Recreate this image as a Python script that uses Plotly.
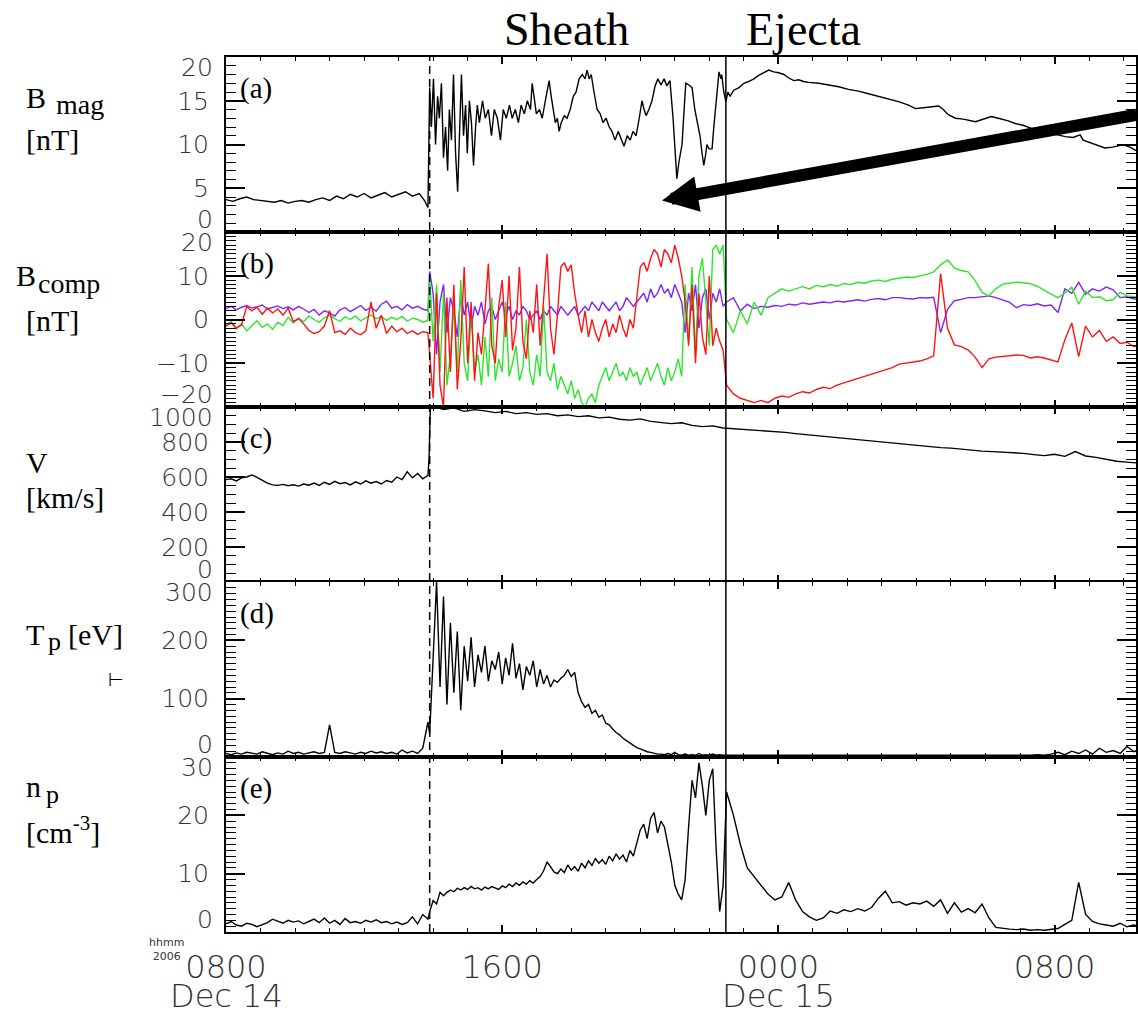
import numpy as np
import pandas as pd
import plotly.graph_objects as go

# ---------------- time base ----------------
T0 = pd.Timestamp("2006-12-14 08:00")   # hours below are counted from here
X_END_H = 26.36                          # right edge of the time axis (h)
SHOCK_H = 5.90                           # dashed line (shock)
EJECTA_H = 14.48                         # solid line (ejecta start)
ARROW_TIP = (12.63, 3.6)                 # (h, nT) arrow tip in panel (a)
SHEATH_LABEL_H = 9.86
EJECTA_LABEL_H = 16.73


def to_time(hours):
    return T0 + pd.to_timedelta(np.asarray(hours, dtype=float), unit="h")


def tstr(h):
    return (T0 + pd.Timedelta(hours=h)).strftime("%Y-%m-%d %H:%M:%S")


def sample_times(start, step, n):
    return [round(start + step * i, 4) for i in range(n)]


# ---------------- (a) |B| ----------------
bmag_t = [
    0.0, 0.2, 0.4, 0.6, 0.8, 1.0, 1.2, 1.4, 1.6, 1.8,
    2.0, 2.2, 2.4, 2.6, 2.8, 3.0, 3.2, 3.4, 3.6, 3.8,
    4.0, 4.2, 4.4, 4.6, 4.8, 5.0, 5.2, 5.4, 5.6, 5.75, 5.85,
    5.90, 5.95, 6.01, 6.07, 6.13, 6.18, 6.24, 6.30, 6.36, 6.42,
    6.47, 6.53, 6.59, 6.65, 6.71, 6.76, 6.82, 6.88, 6.94, 6.99,
    7.05, 7.11, 7.17, 7.23, 7.28, 7.34, 7.43, 7.51, 7.60, 7.69,
    7.77, 7.86, 7.95, 8.03, 8.12, 8.21, 8.29, 8.38, 8.47, 8.55,
    8.64, 8.73, 8.82, 8.87, 8.93, 8.99, 9.08, 9.16, 9.25, 9.31,
    9.36, 9.42, 9.48, 9.54, 9.60, 9.65, 9.71, 9.80, 9.88, 9.97,
    10.06, 10.14, 10.23, 10.32, 10.40, 10.46, 10.52, 10.58, 10.66, 10.75,
    10.84, 10.92, 11.01, 11.10, 11.18, 11.27, 11.36, 11.45, 11.53, 11.62,
    11.71, 11.79, 11.88, 11.97, 12.05, 12.11, 12.17, 12.25, 12.34, 12.43,
    12.51, 12.60, 12.69, 12.77, 12.86, 12.95, 13.01, 13.06, 13.12, 13.21,
    13.27, 13.32, 13.41, 13.50, 13.58, 13.67, 13.73, 13.79, 13.84, 13.90,
    13.93, 13.99, 14.08, 14.13, 14.19, 14.25, 14.28, 14.34, 14.36, 14.42,
    14.48,
    14.54, 14.60, 14.71, 14.86, 15.00, 15.14, 15.29, 15.43, 15.58, 15.72,
    15.87, 16.01, 16.16, 16.30, 16.45, 16.59, 16.73, 16.88, 17.17, 17.46,
    17.75, 18.03, 18.32, 18.61, 18.90, 19.19, 19.48, 19.77, 19.97, 20.20,
    20.49, 20.64, 20.78, 20.92, 21.13, 21.36, 21.71, 21.94, 22.17, 22.37,
    22.66, 22.86, 23.09, 23.29, 23.53, 23.82, 24.10, 24.31, 24.54, 24.74,
    24.83, 24.97, 25.17, 25.46, 25.69, 25.90, 26.04, 26.18, 26.36, 26.50,
]
bmag_v = [
    3.7, 3.5, 3.8, 4.0, 3.7, 3.6, 3.5, 3.4, 3.6, 3.3,
    3.5, 3.6, 3.4, 3.7, 3.9, 3.6, 4.1, 3.8, 4.3, 4.0,
    4.4, 3.9, 4.2, 4.5, 4.0, 4.3, 4.6, 4.1, 4.4, 3.6, 2.8,
    16.5, 12, 17.5, 10, 15.5, 13, 17, 8.5, 12, 7,
    14, 10.5, 18, 9, 4.6, 12, 18, 11, 14.5, 9,
    15, 12.5, 7.6, 12, 14.5, 12.5, 15, 13, 14, 11,
    14, 13, 10.5, 14, 13, 14.5, 13, 14, 12.5, 14.5,
    13.5, 15, 14, 17, 15, 13.5, 14, 13, 15, 16.5,
    17.3, 15.5, 14, 12.5, 13, 11.5, 12.5, 13.3, 13, 14,
    15.5, 16, 17.5, 18, 17.5, 18.5, 17.5, 18, 16, 14,
    13.5, 12.5, 13, 12, 11.5, 10.5, 11.5, 10.5, 9.8, 11,
    10.5, 11.5, 11, 13, 15, 14, 13.3, 14, 15, 16.7,
    17.5, 16.8, 17.5, 16.7, 17.3, 13, 9, 6.1, 8, 10,
    14, 17, 16.8, 16.5, 14, 12, 11, 9, 7.6, 9,
    10, 9.5, 9.5, 12, 15, 17, 18.3, 17.5, 18, 16,
    14.9,
    16, 15.5, 16.2, 16.5, 17, 17.2, 17.5, 17.9, 18.2, 18.5,
    18.3, 18.2, 18, 17.6, 17.3, 17.4, 17.2, 17.1, 17, 16.8,
    16.6, 16.3, 16.1, 15.8, 15.5, 15.2, 14.9, 14.5, 14.1, 14.2,
    14.3, 14.4, 14.0, 13.4, 13.0, 12.9, 12.6, 12.9, 13.2, 13.0,
    12.7, 12.4, 12.2, 11.9, 11.6, 11.3, 11.1, 10.9, 10.8, 11.1,
    10.5, 10.3, 10.0, 9.6, 9.7, 9.9, 9.9, 9.7, 9.3, 9.2,
]

# common sampling grid for (b), (d), (e)
pre_t = sample_times(0.0, 0.15, 40)
sheath_t = sample_times(5.9, 0.1, 86)
ejecta_t = sample_times(14.5, 0.2, 61)
grid_t = pre_t + sheath_t + ejecta_t

# ---------------- (b) B components ----------------
bred_pre = [-1.5, -0.8, -2.0, -1.2, 3.0, 2.0, 2.8, 1.2, 2.6, 1.5,
            2.4, 1.0, 2.6, -0.5, 0.2, -1.0, -2.5, -3.2, -2.8, -1.5,
            2.0, -3.0, -2.6, -3.4, -2.0, -3.0, -3.5, -2.6, 4.0, -2.0,
            1.0, -3.2, -1.5, -2.8, -2.0, -3.2, -2.6, -3.4, -2.8, -3.0]
bred_sheath = [-8, -18, 6, -15, -20, 5, -12, 8, -16, -5,
               12, -10, 4, -14, -3, -8, 2, 12.8, -6, -10,
               3, 9, -4, 10, -7, -2, 12, -5, -9, 2,
               -3, 8, -6, 4, 15, -2, -8, 1, 12, 13,
               11, 12.5, 6, 1, -3, 2, -4, 0, -3, -5,
               -2, 0, -4, -1, -3, 1, -2, -4, 0, -2,
               5, 12, 13, 11, 14, 16, 15, 12, 16, 15,
               13, 17, 14, 10, 4, -6, 8, -10, 6, -4,
               -8, 10, -6, -2, -5, -7]
bred_ejecta = [-15, -17, -18, -18.5, -19, -18.5, -19, -18, -17.5, -17.8,
               -17, -16.5, -16.8, -16, -15.5, -15.8, -15, -14.5, -14, -13.5,
               -13, -12.6, -12, -11.5, -11, -10.2, -10, -9.7, -9.5, -9,
               -8.3, 10.5, -2, -5.8, -6.2, -7, -8.6, -11, -9, -8.6,
               -8.5, -8.3, -8.1, -8.2, -8.8, -8.5, -8.8, -9.2, -9.7, -4.6,
               -0.8, -8.5, -1.5, -4, -2.5, -5, -4, -5.5, -5.2, -6.2,
               -6]

bgreen_pre = [-1.2, -0.5, -2.0, -1.0, -2.6, -1.5, -0.3, -1.8, -1.0, -2.2,
              -0.6, -1.4, 0.5, -0.8, 0.3, -0.5, 0.8, 0.0, -0.6, 0.4,
              1.0, 0.2, -0.4, 0.6, 0.0, 0.8, -0.3, 0.4, 1.0, 0.2,
              0.6, -0.2, 0.5, 0.0, 0.7, -0.4, 0.3, 0.0, -0.6, -0.2]
bgreen_sheath = [10, -5, 8, -12, 6, -15, -8, 3, -12, 9,
                 -10, -14, 2, -12, -8, -15, -4, -13, 5, -14,
                 -9, -12, 4, -13, -10, -6, -14, -11, 0, -12,
                 -15, -8, -13, 3, -12, -14, -10, -16, -13, -15,
                 -17, -14, -18, -16, -19, -20, -18, -17, -19, -15,
                 -13, -11, -14, -12, -10, -13, -12, -14, -11, -13,
                 -12, -15, -13, -11, -14, -12, -10, -13, -15, -11,
                 -14, -12, -9, -13, 8, -5, 12, -8, 10, 14,
                 4, -6, 16, 17, 15, 17]
bgreen_ejecta = [0, -3, 2, -1, 4, 1, 5, 6, 7, 6.5,
                 7, 7.5, 7, 7.8, 7.5, 8, 7.6, 8.2, 8, 8.5,
                 8.3, 8.8, 9, 8.7, 9.2, 9.5, 9.7, 9.6, 10, 10.3,
                 10.9, 12.5, 13.6, 11.8, 11.2, 10.9, 8.9, 6.2, 5.4, 7,
                 8.1, 8.3, 8.5, 8.4, 8.2, 7.6, 6.6, 5.8, 5, 6,
                 7.4, 3.5, 6.5, 5, 5.2, 4.3, 4.5, 6.2, 5.4, 5.2,
                 5]

bpurple_pre = [2.5, 3.0, 2.2, 2.8, 3.2, 2.6, 2.9, 3.3, 2.4, 2.8,
               3.1, 2.5, 2.9, 2.2, 3.0, 2.4, 1.6, 2.3, 1.0, 2.0,
               1.5, 0.8, 2.2, 2.7, 1.8, 2.5, 3.2, 2.1, 2.8, 1.9,
               3.5, 4.2, 2.6, 3.0, 2.2, 3.4, 2.6, 3.0, 2.4, 2.0]
bpurple_sheath = [11, 6, -8, 4, 8, -3, 5, 2, -4, 6,
                  1, 4, -2, 3, 1, 4, -1, 2, 3, 0,
                  2, 4, 1, 3, 0, 2, 1, 3, 2, 0,
                  1, 2, 0, 2, 1, 3, 2, 1, 3, 2,
                  1, 2, 3, 1, 2, 3, 2, 4, 3, 2,
                  4, 3, 2, 3, 4, 2, 3, 5, 4, 3,
                  4, 5, 6, 4, 7, 5, 6, 8, 6, 7,
                  5, 8, 6, 4, -3, 6, 2, 8, -2, 5,
                  7, 0, 6, 4, 7, 3]
bpurple_ejecta = [4, 5, 2, 3.5, 2.5, 3, 2.8, 3.2, 3, 3.5,
                  3.3, 3.8, 3.5, 3.7, 4, 3.8, 4.2, 4, 4.3, 4.5,
                  4.2, 4.6, 4.8, 4.5, 5, 5, 4.8, 4.7, 5, 4.9,
                  5.1, -3, 2.3, 4.3, 4.6, 5, 5, 5.2, 5.4, 5,
                  4.5, 3.9, 2.7, 3.4, 3.2, 3.6, 3.1, 3.3, 1.6, 7,
                  6, 8.5, 5.8, 7, 6.5, 7.4, 6.8, 5, 5.2, 4.7,
                  4.6]

# ---------------- (c) V ----------------
v_pre = [585, 590, 578, 595, 600, 612, 598, 580, 565, 555,
         552, 558, 550, 556, 548, 560, 553, 565, 552, 570,
         558, 575, 562, 568, 555, 572, 560, 578, 565, 574,
         560, 580, 570, 600, 585, 630, 595, 620, 590, 610]
v_jump_t = [5.88, 5.92]
v_jump = [700, 1000]
v_post_t = sample_times(6.0, 0.3, 69)
v_post = [1005, 985, 995, 975, 985, 978, 968, 975, 962, 968,
          958, 962, 950, 955, 945, 950, 938, 942, 930, 925,
          932, 918, 912, 905, 910, 895, 888, 892, 880, 876,
          872, 868, 865, 858, 855, 848, 842, 836, 832, 825,
          820, 812, 808, 800, 795, 790, 782, 778, 772, 768,
          765, 758, 752, 748, 745, 742, 738, 735, 728, 722,
          730, 718, 745, 720, 712, 700, 690, 685, 680]

# ---------------- (d) Tp ----------------
tp_pre = [6, 4, 7, 5, 8, 6, 5, 9, 6, 4,
          7, 5, 10, 6, 8, 5, 7, 9, 6, 8,
          55, 8, 6, 9, 7, 5, 8, 6, 10, 7,
          9, 6, 8, 5, 12, 7, 10, 6, 15, 60]
tp_sheath = [40, 180, 300, 120, 275, 90, 230, 110, 215, 80,
             190, 130, 205, 120, 175, 145, 190, 130, 165, 150,
             180, 125, 170, 140, 195, 135, 160, 115, 155, 140,
             165, 120, 150, 125, 140, 120, 132, 128, 135, 140,
             150, 138, 145, 110, 95, 85, 90, 75, 80, 68,
             72, 58, 55, 48, 42, 38, 32, 28, 24, 20,
             16, 14, 11, 9, 8, 6, 5, 5, 4, 6,
             4, 8, 4, 3, 5, 3, 4, 3, 6, 3,
             4, 3, 5, 3, 4, 3]
tp_ejecta = [3, 2, 3, 2, 3, 2, 2, 3, 2, 2,
             3, 2, 2, 2, 3, 2, 2, 2, 3, 2,
             2, 2, 2, 3, 2, 2, 2, 3, 2, 2,
             2, 3, 2, 2, 3, 2, 2, 3, 2, 2,
             3, 2, 3, 2, 3, 4, 3, 5, 8, 4,
             10, 6, 12, 5, 15, 8, 11, 6, 18, 9,
             14]

# ---------------- (e) np ----------------
np_pre = [1.4, 1.8, 1.2, 1.0, 1.5, 1.3, 0.9, 1.2, 1.6, 2.2,
          1.8, 1.5, 2.0, 1.7, 1.9, 1.4, 1.8, 2.2, 1.6, 2.4,
          1.5, 2.0, 1.3, 2.3, 1.6, 1.8, 1.5, 2.0, 1.7, 2.1,
          1.6, 1.8, 1.4, 1.7, 1.3, 1.6, 2.6, 1.4, 3.0, 2.2]
np_sheath = [3.5, 5.4, 4.8, 6.8, 6.2, 6.8, 7.2, 6.9, 7.5, 7.2,
             7.6, 7.3, 7.8, 7.4, 7.6, 7.2, 7.7, 7.4, 7.8, 7.5,
             7.3, 7.9, 7.6, 8.2, 7.8, 8.4, 8.0, 8.6, 8.2, 8.8,
             8.4, 9.0, 9.5, 10.5, 12.0, 11.2, 10.3, 10.0, 10.8, 10.2,
             11.5, 10.6, 11.2, 10.4, 11.8, 11.0, 12.2, 11.4, 12.6, 11.8,
             12.4, 11.6, 13.0, 12.2, 13.4, 12.5, 13.2, 12.0, 14.0, 13.0,
             15.5, 17.5, 18.5, 16.0, 19.5, 20.5, 17.0, 19.0, 18.0, 15.0,
             12.0, 8.0, 6.5, 5.5, 9.0, 18.0, 26.0, 23.0, 29.0, 25.0,
             20.0, 26.0, 28.0, 14.0, 3.5, 8.0]
np_ejecta = [24, 20, 15, 11, 9.5, 8, 6.5, 5.5, 6, 8.5,
             5.5, 3.5, 2.6, 2, 2.4, 3.6, 3.2, 3.8, 3.5, 4.0,
             3.6, 4.2, 5.8, 7.0, 5.0, 5.2, 4.6, 5.0, 4.8, 5.3,
             4.4, 5.5, 3.2, 5.0, 3.4, 4.0, 3.3, 4.8, 2.4, 0.8,
             0.6, 0.5, 0.4, 0.5, 0.3, 0.4, 0.3, 0.5, 0.6, 1.3,
             2.0, 8.5, 3.0, 1.8, 1.4, 1.2, 1.0, 1.5, 0.9, 1.2,
             1.0]

# axis tick labels
x_major_h = [0, 8, 16, 24]
x_major_text = ["0800", "1600", "0000", "0800"]
date_labels_h = [0, 16]
date_labels = ["Dec 14", "Dec 15"]

assert len(bmag_t) == len(bmag_v)
for seq in (bred_pre, bgreen_pre, bpurple_pre, v_pre, tp_pre, np_pre):
    assert len(seq) == 40
for seq in (bred_sheath, bgreen_sheath, bpurple_sheath, tp_sheath, np_sheath):
    assert len(seq) == 86
for seq in (bred_ejecta, bgreen_ejecta, bpurple_ejecta, tp_ejecta, np_ejecta):
    assert len(seq) == 61
assert len(v_post) == len(v_post_t)

# ---------------- figure ----------------
W, H = 1138, 1013
ML, MR, MT, MB = 226, 0, 57, 81
PW, PH = W - ML - MR, H - MT - MB

def px(x):
    return (x - ML) / PW

def py(y):
    return (H - MB - y) / PH

SANS = "DejaVu Sans"
SERIF = "Liberation Serif"
TICKC = "#333333"
TICKFONT_Y = dict(family=SANS, size=25, color=TICKC, weight=300)
TICKFONT_X = dict(family=SANS, size=32, color=TICKC, weight=300)

panels = [
    dict(lo=0, hi=20, mid=[5, 10, 15], mid_t=["5", "10", "15"], top="20", bot="0", minor=1, tag="(a)"),
    dict(lo=-20, hi=20, mid=[-10, 0, 10], mid_t=["\u221210", "0", "10"], top="20", bot="\u221220", minor=1, tag="(b)"),
    dict(lo=0, hi=1000, mid=[200, 400, 600, 800], mid_t=["200", "400", "600", "800"], top="1000", bot="0", minor=50, tag="(c)"),
    dict(lo=0, hi=300, mid=[100, 200], mid_t=["100", "200"], top="300", bot="0", minor=10, tag="(d)"),
    dict(lo=0, hi=30, mid=[10, 20], mid_t=["10", "20"], top="30", bot="0", minor=1, tag="(e)"),
]

fig = go.Figure()
LINE_W = 1.4

def add(k, t_hours, vals, color="black", width=LINE_W):
    xa = "x" if k == 0 else f"x{k+1}"
    ya = "y" if k == 0 else f"y{k+1}"
    fig.add_trace(go.Scatter(x=to_time(t_hours), y=vals, mode="lines",
                             line=dict(color=color, width=width),
                             xaxis=xa, yaxis=ya, hoverinfo="skip"))

add(0, bmag_t, bmag_v)
add(1, grid_t, bpurple_pre + bpurple_sheath + bpurple_ejecta, "#8022ff", 1.4)
add(1, grid_t, bgreen_pre + bgreen_sheath + bgreen_ejecta, "#2ee52e", 1.4)
add(1, grid_t, bred_pre + bred_sheath + bred_ejecta, "#ff1414", 1.4)
add(2, pre_t + v_jump_t + v_post_t, v_pre + v_jump + v_post)
add(3, grid_t, tp_pre + tp_sheath + tp_ejecta)
add(4, grid_t, np_pre + np_sheath + np_ejecta)

layout = dict(
    width=W, height=H, margin=dict(l=ML, r=MR, t=MT, b=MB, pad=0),
    paper_bgcolor="white", plot_bgcolor="white", showlegend=False,
)

x_range = [tstr(0), tstr(X_END_H)]
for k, p in enumerate(panels):
    sfx = "" if k == 0 else str(k + 1)
    d0 = 1 - 0.2 * (k + 1)
    layout["xaxis" + sfx] = dict(
        type="date", range=x_range, domain=[0, 1], anchor="y" + sfx,
        showline=True, linecolor="black", linewidth=2, mirror="ticks",
        ticks="inside", ticklen=7, tickwidth=1.5, tickcolor="black",
        tickmode="array", tickvals=[tstr(h) for h in x_major_h], ticktext=x_major_text,
        showticklabels=(k == 4), tickfont=TICKFONT_X,
        ticklabelstandoff=6,
        minor=dict(ticks="inside", ticklen=4, tickwidth=1.2, tickcolor="black",
                   tick0=tstr(0), dtick=3600000, showgrid=False),
        showgrid=False, zeroline=False, fixedrange=True,
    )
    layout["yaxis" + sfx] = dict(
        range=[p["lo"], p["hi"]], domain=[d0, d0 + 0.2], anchor="x" + sfx,
        showline=True, linecolor="black", linewidth=2, mirror="ticks",
        ticks="inside", ticklen=19, tickwidth=1.5, tickcolor="black",
        tickmode="array", tickvals=p["mid"], ticktext=p["mid_t"],
        tickfont=TICKFONT_Y, ticklabelstandoff=10,
        minor=dict(ticks="inside", ticklen=10, tickwidth=1.2, tickcolor="black",
                   tick0=0, dtick=p["minor"], showgrid=False),
        showgrid=False, zeroline=False, fixedrange=True,
    )

fig.update_layout(**layout)

ann = []
for k, p in enumerate(panels):
    yref = "y" if k == 0 else f"y{k+1}"
    ann.append(dict(text=p["top"], xref="paper", x=0, xanchor="right", xshift=-11,
                    yref=yref, y=p["hi"], yanchor="top", yshift=6, showarrow=False,
                    font=TICKFONT_Y))
    ann.append(dict(text=p["bot"], xref="paper", x=0, xanchor="right", xshift=-11,
                    yref=yref, y=p["lo"], yanchor="bottom", yshift=-4, showarrow=False,
                    font=TICKFONT_Y))
    ann.append(dict(text=p["tag"], xref="paper", x=0, xanchor="left", xshift=12,
                    yref=yref + " domain", y=1, yanchor="top", yshift=-13, showarrow=False,
                    font=dict(family=SERIF, size=29, color="black")))

# dates under the time tick labels
for h, lab_ in zip(date_labels_h, date_labels):
    ann.append(dict(text=lab_, xref="x5", x=tstr(h), xanchor="center",
                    yref="paper", y=py(996), yanchor="middle", showarrow=False,
                    font=TICKFONT_X))
ann.append(dict(text="hhmm<br>2006", xref="paper", x=px(166), xanchor="center",
                yref="paper", y=py(950), yanchor="middle", showarrow=False,
                font=dict(family=SANS, size=11, color=TICKC)))

# panel titles on the left
def lab(text, x, y, size=30):
    ann.append(dict(text=text, xref="paper", x=px(x), xanchor="left",
                    yref="paper", y=py(y), yanchor="middle", showarrow=False,
                    font=dict(family=SERIF, size=size, color="black")))

lab("B", 24, 97)
lab("mag", 54, 104, 28)
lab("[nT]", 24, 139)
lab("B", 14, 275)
lab("comp", 36, 283, 28)
lab("[nT]", 24, 320)
lab("V", 24, 462)
lab("[km/s]", 24, 497)
lab("T", 24, 634)
lab("p", 46, 641, 26)
lab("[eV]", 66, 634)
lab("\u22a2", 106, 680, 18)
lab("n", 24, 786)
lab("p", 44, 794, 26)
lab("[cm<sup>-3</sup>]", 24, 830)

# region names
for text, h in (("Sheath", SHEATH_LABEL_H), ("Ejecta", EJECTA_LABEL_H)):
    ann.append(dict(text=text, xref="x", x=tstr(h), xanchor="center",
                    yref="paper", y=py(30), yanchor="middle", showarrow=False,
                    font=dict(family=SERIF, size=46, color="black")))

# thick arrow
ann.append(dict(text="", xref="x", x=tstr(ARROW_TIP[0]), yref="y", y=ARROW_TIP[1],
                axref="pixel", ayref="pixel", ax=490, ay=-86, showarrow=True,
                arrowhead=2, arrowsize=0.6, arrowwidth=12, arrowcolor="black", standoff=0))

fig.update_layout(annotations=ann)

shapes = [
    dict(type="line", xref="x", yref="paper", x0=tstr(SHOCK_H), x1=tstr(SHOCK_H), y0=0, y1=1,
         line=dict(color="black", width=1.5, dash="8px,5px")),
    dict(type="line", xref="x", yref="paper", x0=tstr(EJECTA_H), x1=tstr(EJECTA_H), y0=0, y1=1,
         line=dict(color="black", width=1.5)),
]
fig.update_layout(shapes=shapes)

fig.write_html("out.html")
